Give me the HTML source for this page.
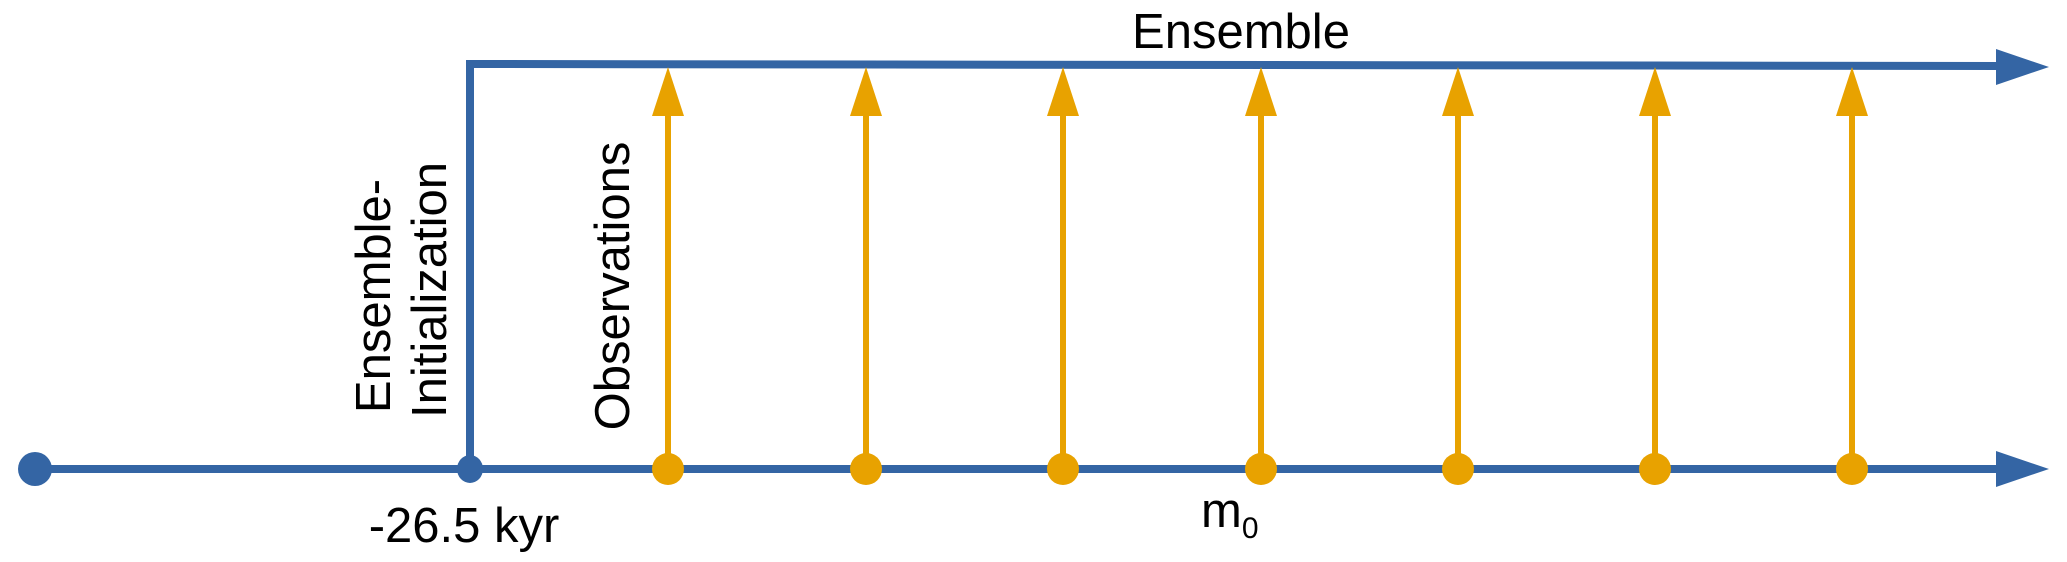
<!DOCTYPE html>
<html><head><meta charset="utf-8"><style>html,body{margin:0;padding:0;background:#fff;}svg{display:block}</style></head>
<body>
<svg width="2067" height="562" viewBox="0 0 2067 562" xmlns="http://www.w3.org/2000/svg" font-family="Liberation Sans, sans-serif">
<g stroke="#3465A4" stroke-width="8" fill="none">
<line x1="35" y1="469" x2="2000" y2="469"/>
<polyline points="470,469 470,64 2000,66"/>
</g>
<g fill="#3465A4">
<polygon points="1996,451 2049,469 1996,487"/>
<polygon points="1996,49 2049,67 1996,85"/>
<ellipse cx="35" cy="469" rx="17" ry="17"/>
<ellipse cx="470" cy="469" rx="13" ry="14"/>
</g>
<g stroke="#E8A200" stroke-width="6">
<line x1="668" y1="110" x2="668" y2="469"/>
<line x1="866" y1="110" x2="866" y2="469"/>
<line x1="1063" y1="110" x2="1063" y2="469"/>
<line x1="1261" y1="110" x2="1261" y2="469"/>
<line x1="1458" y1="110" x2="1458" y2="469"/>
<line x1="1655" y1="110" x2="1655" y2="469"/>
<line x1="1852" y1="110" x2="1852" y2="469"/>
</g>
<g fill="#E8A200">
<polygon points="668,67 652,116 684,116"/><ellipse cx="668" cy="469" rx="16" ry="16"/>
<polygon points="866,67 850,116 882,116"/><ellipse cx="866" cy="469" rx="16" ry="16"/>
<polygon points="1063,67 1047,116 1079,116"/><ellipse cx="1063" cy="469" rx="16" ry="16"/>
<polygon points="1261,67 1245,116 1277,116"/><ellipse cx="1261" cy="469" rx="16" ry="16"/>
<polygon points="1458,67 1442,116 1474,116"/><ellipse cx="1458" cy="469" rx="16" ry="16"/>
<polygon points="1655,67 1639,116 1671,116"/><ellipse cx="1655" cy="469" rx="16" ry="16"/>
<polygon points="1852,67 1836,116 1868,116"/><ellipse cx="1852" cy="469" rx="16" ry="16"/>
</g>
<g fill="#000" font-size="49">
<text x="1241" y="48" text-anchor="middle">Ensemble</text>
<text x="464" y="542" text-anchor="middle">-26.5 kyr</text>
<text x="1201" y="527">m<tspan font-size="30" dy="11">0</tspan></text>
<text transform="translate(390,296) rotate(-90)" text-anchor="middle">Ensemble-</text>
<text transform="translate(446,290) rotate(-90)" text-anchor="middle">Initialization</text>
<text transform="translate(629,286) rotate(-90)" text-anchor="middle">Observations</text>
</g>
</svg>
</body></html>
